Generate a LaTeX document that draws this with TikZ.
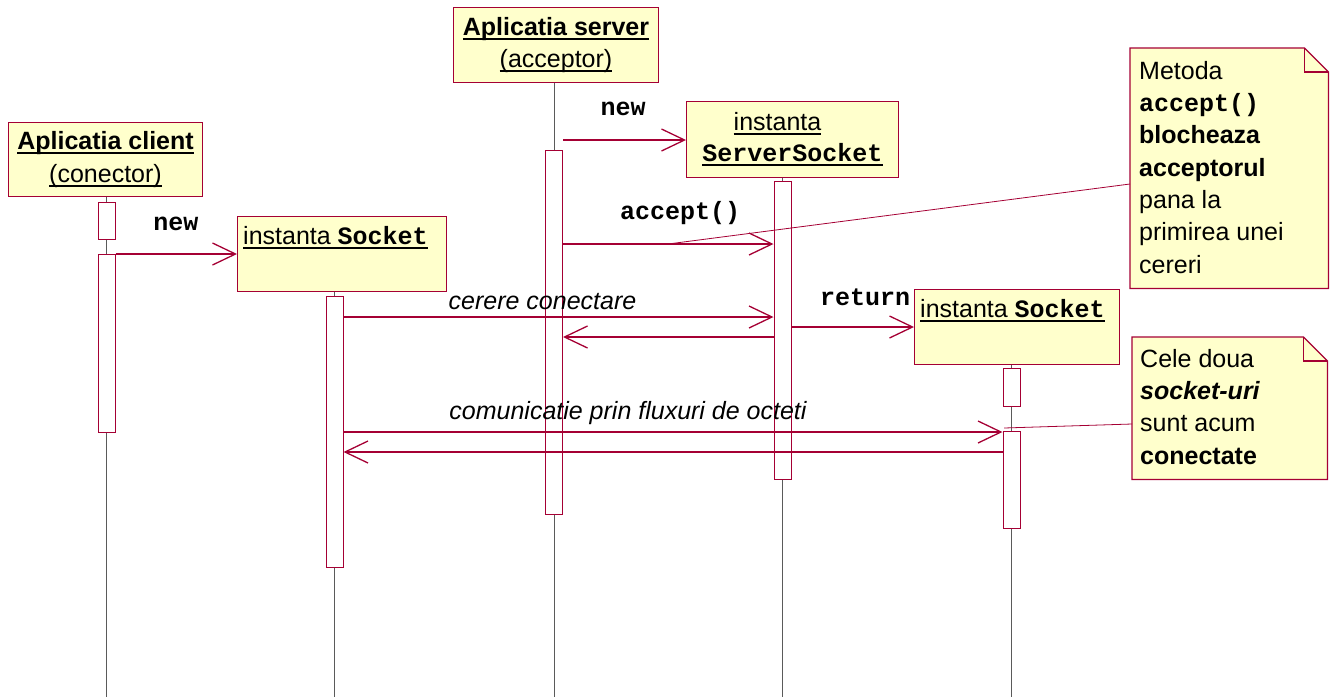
\documentclass[tikz,border=0pt]{standalone}
\usepackage{fontspec}
\setmainfont{Liberation Sans}
\newfontfamily\monof{Liberation Mono}
\usetikzlibrary{arrows.meta}
\definecolor{crim}{RGB}{165,0,52}
\definecolor{noteY}{RGB}{255,255,204}
\definecolor{lifeg}{RGB}{90,90,90}
\newcommand\ulx[1]{\setbox0=\hbox{#1}\rlap{\rule[-4.5pt]{\wd0}{2pt}}\box0}
\newcommand\mb[1]{{\monof\bfseries #1}}
\begin{document}
\begin{tikzpicture}[x=1pt,y=-1pt,
 every node/.style={font=\fontsize{25}{32.3}\selectfont, inner sep=0pt},
 obj/.style={draw=crim, fill=noteY, line width=1pt, anchor=north west},
 act/.style={draw=crim, fill=white, line width=1pt, minimum width=17pt, anchor=north},
 life/.style={draw=lifeg, line width=0.8pt},
 msg/.style={draw=crim, line width=1.1pt, -{Straight Barb[length=23pt,width=22pt,line width=1.3pt]}},
 conn/.style={draw=crim, line width=0.8pt},
 note/.style={draw=crim, fill=noteY, line width=1.2pt}]
\useasboundingbox (0,0) rectangle (1332,697);
\coordinate (bot) at (0,697);
\foreach \n/\y in {y140/140,y184/184,y244/244,y317/317,y327/327,y337/337,y424/424,y432/432,y452/452}
  \coordinate (\n) at (0,\y);
% objects
\node[obj, minimum width=194pt, minimum height=74pt, align=center] (client) at (8,122)
  {\ulx{\bfseries Aplicatia client}\\\ulx{(conector)}};
\node[obj, minimum width=205pt, minimum height=75pt, align=center] (server) at (453,7)
  {\ulx{\bfseries Aplicatia server}\\\ulx{(acceptor)}};
\node[obj, minimum width=212pt, minimum height=76pt, align=center, font=\fontsize{25}{31}\selectfont] (ssock) at (686,101)
  {\ulx{instanta}\phantom{\mb{ab}}\\\ulx{\mb{ServerSocket}}};
\node[obj, minimum width=209pt, minimum height=75pt] (sock1) at (237,216) {};
\node[obj, minimum width=205pt, minimum height=75pt] (sock2) at (914,289) {};
\node[anchor=west] (t1) at (243,238) {\ulx{instanta \mb{Socket}}};
\node[anchor=west] (t2) at (920,311) {\ulx{instanta \mb{Socket}}};
% lifeline positions
\coordinate (lc) at (106.5,0);
\coordinate (ls) at (554,0);
\coordinate (lss) at (782.5,0);
\coordinate (lk1) at (334.5,0);
\coordinate (lk2) at (1011.5,0);
\draw[life] (client.south -| lc) -- (lc |- bot);
\draw[life] (server.south -| ls) -- (ls |- bot);
\draw[life] (ssock.south -| lss) -- (lss |- bot);
\draw[life] (sock1.south -| lk1) -- (lk1 |- bot);
\draw[life] (sock2.south -| lk2) -- (lk2 |- bot);
% activations
\node[act, minimum height=37pt] (ca1) at (106.5,202) {};
\node[act, minimum height=178pt] (ca2) at (106.5,254) {};
\node[act, minimum height=364pt] (sa) at (554,150) {};
\node[act, minimum height=298pt] (ssa) at (782.5,181) {};
\node[act, minimum height=271pt] (k1a) at (334.5,296) {};
\node[act, minimum height=38pt] (k2a1) at (1011.5,368) {};
\node[act, minimum height=97pt] (k2a2) at (1011.5,431) {};
% messages
\draw[msg] (ca2.north east) -- (sock1.west |- ca2.north);
\draw[msg] (sa.east |- y140) -- (ssock.west |- y140);
\draw[msg] (sa.east |- y244) -- (ssa.west |- y244);
\draw[msg] (k1a.east |- y317) -- (ssa.west |- y317);
\draw[msg] (ssa.west |- y337) -- (sa.east |- y337);
\draw[msg] (ssa.east |- y327) -- (sock2.west |- y327);
\draw[msg] (k1a.east |- y432) -- (k2a2.west |- y432);
\draw[msg] (k2a2.west |- y452) -- (k1a.east |- y452);
% labels
\node (lnew1) at (176,224) {\mb{new}};
\node (lnew2) at (623,109) {\mb{new}};
\node (lacc) at (680,213) {\mb{accept()}};
\node (lret) at (865,297) {\mb{return}};
\node (lcer) at (542.5,302) {\itshape cerere conectare};
\node (lcom) at (628,413) {\itshape comunicatie prin fluxuri de octeti};
% notes
\path node[minimum width=198pt, minimum height=240pt, anchor=north west] (n1) at (1130,48) {};
\draw[note] (n1.north west) -- ([xshift=-24pt]n1.north east) -- ([yshift=-24pt]n1.north east)
  -- (n1.south east) -- (n1.south west) -- cycle;
\draw[conn, line width=1.2pt] ([xshift=-24pt]n1.north east) |- ([yshift=-24pt]n1.north east);
\node[anchor=north west, align=left] (nt1) at (1139,61)
  {Metoda\\\mb{accept()}\\\textbf{blocheaza}\\\textbf{acceptorul}\\pana la\\primirea unei\\cereri};
\path node[minimum width=195pt, minimum height=142pt, anchor=north west] (n2) at (1132,337) {};
\draw[note] (n2.north west) -- ([xshift=-24pt]n2.north east) -- ([yshift=-24pt]n2.north east)
  -- (n2.south east) -- (n2.south west) -- cycle;
\draw[conn, line width=1.2pt] ([xshift=-24pt]n2.north east) |- ([yshift=-24pt]n2.north east);
\node[anchor=north west, align=left] (nt2) at (1140,349)
  {Cele doua\\\textbf{\itshape socket-uri}\\sunt acum\\\textbf{conectate}};
% note connectors
\coordinate (a1) at (668,244);
\coordinate (a2) at (1004,428);
\draw[conn] (n1.west |- y184) -- (a1);
\draw[conn] (n2.west |- y424) -- (a2);
\end{tikzpicture}
\end{document}
